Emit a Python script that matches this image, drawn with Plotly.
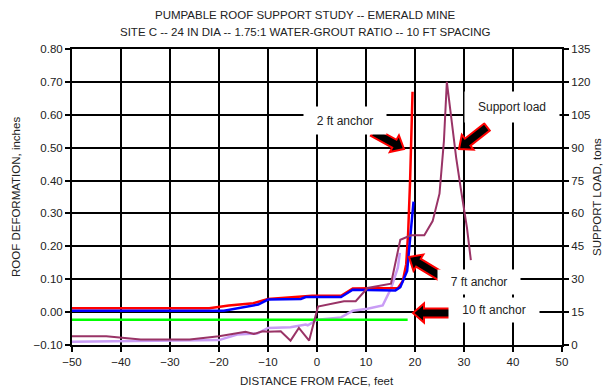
import plotly.graph_objects as go
import math

# ---------------- data ----------------
anchor2_x = [-50, -22, -18, -13, -10, -3, -1, 5, 7.3, 16.5, 17.5, 18.2, 18.6, 19.0, 19.5]
anchor2_y = [0.012, 0.012, 0.02, 0.027, 0.04, 0.046, 0.05, 0.05, 0.072, 0.073, 0.094, 0.145, 0.24, 0.40, 0.67]

anchor7_x = [-50, -19, -12, -10, -3.3, -2.3, 4.9, 7.3, 16.0, 17.0, 18.4, 19.2, 19.7]
anchor7_y = [0.004, 0.004, 0.023, 0.038, 0.04, 0.046, 0.046, 0.068, 0.066, 0.076, 0.125, 0.247, 0.336]

anchor10_x = [-50, 18.5]
anchor10_y = [-0.023, -0.023]

lilac_x = [-50, -40, -30, -20, -16.3, -12.2, -10, -5.4, -2.3, -1.9, 0.1, 4.9, 7.3, 10.3, 13.4, 15.1, 16.5, 16.9]
lilac_y = [-0.09, -0.088, -0.085, -0.085, -0.068, -0.065, -0.048, -0.046, -0.038, -0.04, -0.023, -0.016, 0.004, 0.01, 0.02, 0.072, 0.135, 0.18]

load_x = [-50, -43, -36, -30, -26, -20, -14.6, -12.9, -11.1, -10, -7.4, -5.4, -3.7, -1.6, 0.2, 5.5, 7.9,
          10.3, 15.1, 17.0, 19.2, 21.9, 23.6, 25.0, 25.9, 26.5, 27.4, 28.4, 29.4, 30.6, 31.4]
load_t = [4, 4, 2.5, 2.3, 2.5, 4, 6, 5, 6.3, 6, 6.3, 2, 7.8, 2, 17.5, 20, 20,
          26, 28, 48, 50, 50, 56.5, 69, 93, 120, 103.5, 85.5, 70.5, 53.5, 38.7]

x_ticks = list(range(-50, 51, 10))
y_ticks = [round(-0.1 + 0.1 * i, 2) for i in range(10)]
y2_ticks = list(range(0, 136, 15))

title1 = "PUMPABLE ROOF SUPPORT STUDY -- EMERALD MINE"
title2 = "SITE C -- 24 IN DIA -- 1.75:1 WATER-GROUT RATIO -- 10 FT SPACING"
x_title = "DISTANCE FROM FACE, feet"
y_title = "ROOF DEFORMATION, inches"
y2_title = "SUPPORT LOAD, tons"

# ---------------- layout geometry ----------------
W, H = 610, 389
ML, MR, MT, MB = 72, 48, 49, 44
PW, PH = W - ML - MR, H - MT - MB
FONT = "Arial, Liberation Sans, Helvetica, sans-serif"
TXT = "#222222"

fig = go.Figure()

fig.add_trace(go.Scatter(x=lilac_x, y=lilac_y, mode="lines",
                         line=dict(color="#C99CF5", width=2.5), showlegend=False))
fig.add_trace(go.Scatter(x=load_x, y=load_t, mode="lines", yaxis="y2",
                         line=dict(color="#993366", width=2.0), showlegend=False))
fig.add_trace(go.Scatter(x=anchor10_x, y=anchor10_y, mode="lines",
                         line=dict(color="#00FF00", width=2.5), showlegend=False))
fig.add_trace(go.Scatter(x=anchor2_x, y=anchor2_y, mode="lines",
                         line=dict(color="#FF0000", width=2.5), showlegend=False))
fig.add_trace(go.Scatter(x=anchor7_x, y=anchor7_y, mode="lines",
                         line=dict(color="#0000FF", width=2.5), showlegend=False))


def px2paper(px, py):
    return (px - ML) / PW, (H - MB - py) / PH


def block_arrow(tail, tip, ws=9, wh=19, hl=11):
    tx, ty = tail
    px, py = tip
    L = math.hypot(px - tx, py - ty)
    dx, dy = (px - tx) / L, (py - ty) / L
    nx, ny = -dy, dx
    bx, by = px - dx * hl, py - dy * hl
    pts = [
        (tx + nx * ws / 2, ty + ny * ws / 2),
        (bx + nx * ws / 2, by + ny * ws / 2),
        (bx + nx * wh / 2, by + ny * wh / 2),
        (px, py),
        (bx - nx * wh / 2, by - ny * wh / 2),
        (bx - nx * ws / 2, by - ny * ws / 2),
        (tx - nx * ws / 2, ty - ny * ws / 2),
    ]
    pp = [px2paper(a, b) for a, b in pts]
    path = "M " + " L ".join(f"{a:.5f},{b:.5f}" for a, b in pp) + " Z"
    return dict(type="path", xref="paper", yref="paper", path=path,
                fillcolor="black", line=dict(color="#FF0000", width=2), layer="above")


arrows = [
    ((373, 132), (404, 149)),
    ((487, 127), (459, 149)),
    ((442, 277), (409, 257)),
    ((450, 313), (413, 313)),
]
shapes = [block_arrow(t, p) for t, p in arrows]

labels = [
    ("2 ft anchor", 5.7, 0.584, 80, 25),
    ("Support load", 39.8, 0.625, 92, 28),
    ("7 ft anchor", 33.1, 0.091, 80, 22),
    ("10 ft anchor", 36.1, 0.006, 88, 22),
]
annotations = []
for txt, ax, ay, w, h in labels:
    annotations.append(dict(text=txt, x=ax, y=ay, xref="x", yref="y", showarrow=False,
                            bgcolor="white", width=w, height=h,
                            font=dict(family=FONT, size=12, color=TXT)))


def px_note(txt, px, py, size, angle=0):
    xp, yp = px2paper(px, py)
    return dict(text=txt, x=xp, y=yp, xref="paper", yref="paper", showarrow=False,
                xanchor="center", yanchor="middle", textangle=angle,
                font=dict(family=FONT, size=size, color=TXT))


annotations += [
    px_note(title1, W / 2, 15, 11.5),
    px_note(title2, W / 2, 32, 11.5),
    px_note(x_title, ML + PW / 2, 381, 11.5),
    px_note(y_title, 16, MT + PH / 2, 11.5, -90),
    px_note(y2_title, 597, MT + PH / 2, 11.5, -90),
]

axis_common = dict(showline=True, linecolor="black", linewidth=2,
                   ticks="outside", ticklen=5, tickwidth=2, tickcolor="black",
                   tickfont=dict(family=FONT, size=11.5, color=TXT),
                   zeroline=False, automargin=False)

fig.update_layout(
    width=W, height=H,
    margin=dict(l=ML, r=MR, t=MT, b=MB, pad=0, autoexpand=False),
    paper_bgcolor="white", plot_bgcolor="white",
    showlegend=False,
    xaxis=dict(range=[-50, 50], tickvals=x_ticks, showgrid=True, gridcolor="black", gridwidth=2,
               mirror=True, **axis_common),
    yaxis=dict(range=[-0.1, 0.8], tickvals=y_ticks, tickformat=".2f", showgrid=True,
               gridcolor="black", gridwidth=2, **axis_common),
    yaxis2=dict(range=[0, 135], tickvals=y2_ticks, overlaying="y", side="right", showgrid=False,
                **axis_common),
    shapes=shapes,
    annotations=annotations,
)

fig.write_html(
    "out.html",
    config={"displayModeBar": False},
    post_script="document.documentElement.style.margin='0';document.body.style.margin='0';"
                "document.body.style.overflow='hidden';",
)
